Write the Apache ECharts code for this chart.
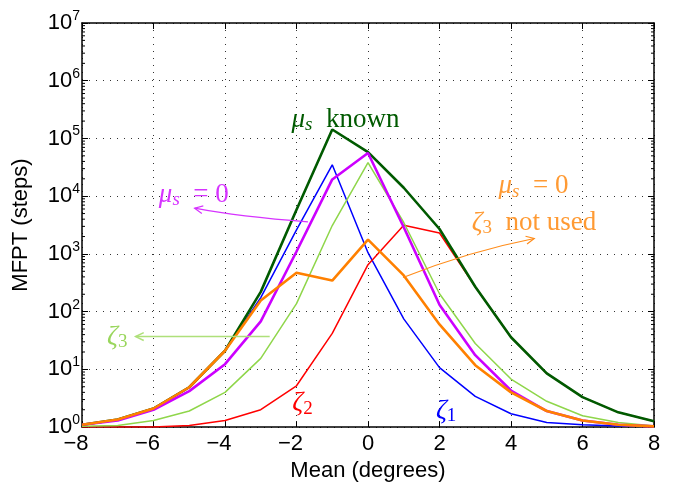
<!DOCTYPE html>
<html>
<head>
<meta charset="utf-8">
<script src="https://cdn.jsdelivr.net/npm/echarts@6/dist/echarts.min.js"></script>
<style>
  html, body { margin: 0; padding: 0; background: #fff; }
  #chart { width: 683px; height: 487px; }
</style>
</head>
<body>
<div id="chart"></div>
<script>
// mean of the distribution (degrees)
const meanDeg = [-8, -7, -6, -5, -4, -3, -2, -1, 0, 1, 2, 3, 4, 5, 6, 7, 8];
// MFPT (steps) for each case
const muKnown = [1.1, 1.35, 2.1, 4.9, 21, 220, 5800, 143000, 58000, 14000, 2700, 270, 36, 8.5, 3.3, 1.8, 1.26];
const muZero = [1.1, 1.3, 2.0, 4.2, 12.3, 68, 1100, 19500, 56000, 2900, 132, 17.6, 4.3, 1.9, 1.3, 1.1, 1.03];
const muZeroNoZeta3 = [1.1, 1.35, 2.1, 4.9, 21, 156, 470, 345, 1770, 424, 60, 11.8, 4.0, 1.9, 1.3, 1.1, 1.03];
const zeta1 = [1.1, 1.35, 2.1, 4.9, 21, 175, 2600, 35000, 1050, 75, 10.7, 3.4, 1.7, 1.2, 1.1, 1.05, 1.02];
const zeta2 = [1.0, 1.0, 1.0, 1.07, 1.3, 2.0, 5.2, 42, 650, 3150, 2300, 270, 36, 8.5, 3.3, 1.8, 1.26];
const zeta3 = [1.03, 1.07, 1.3, 1.9, 4.0, 15.5, 138, 3100, 38000, 3500, 204, 28, 6.8, 2.8, 1.57, 1.2, 1.05];
const minorSteps = [2, 3, 4, 5, 6, 7, 8, 9];
const decades = [1, 10, 100, 1e3, 1e4, 1e5, 1e6];

const sans = '"Liberation Sans", Arial, sans-serif';
const serif = '"Liberation Serif", "Times New Roman", serif';

const pairs = (ys) => meanDeg.map((x, i) => [x, ys[i]]);

const chart = echarts.init(document.getElementById('chart'));

function lineSeries(name, ys, color, width) {
  return {
    name: name,
    type: 'line',
    data: pairs(ys),
    symbol: 'none',
    animation: false,
    lineStyle: { color: color, width: width },
    z: 3
  };
}

const gridLine = { show: true, lineStyle: { color: '#333', type: [1, 6], width: 1 } };
const frameLine = { onZero: false, lineStyle: { color: '#000', width: 1.5 } };
const inTick = { inside: true, length: 6, lineStyle: { color: '#000' } };

chart.setOption({
  animation: false,
  grid: { left: 82, right: 29, top: 23, bottom: 58 },
  xAxis: [
    {
      type: 'value', min: -8, max: 8, interval: 2,
      name: 'Mean (degrees)', nameLocation: 'middle', nameGap: 32,
      nameTextStyle: { fontFamily: sans, fontSize: 22, color: '#000' },
      axisLine: frameLine,
      axisTick: inTick,
      axisLabel: {
        margin: 6,
        formatter: v => v < 0 ? '{neg|\u2212' + (-v) + '}' : '{pos|' + v + '}',
        rich: {
          neg: { fontFamily: sans, fontSize: 22, color: '#000', padding: [0, 12, 0, 0] },
          pos: { fontFamily: sans, fontSize: 22, color: '#000' }
        }
      },
      splitLine: gridLine
    },
    {
      type: 'value', min: -8, max: 8, interval: 2, position: 'top',
      axisLine: frameLine,
      axisTick: inTick,
      axisLabel: { show: false },
      splitLine: { show: false }
    }
  ],
  yAxis: [
    {
      type: 'log', logBase: 10, min: 1, max: 1e7, interval: 1,
      name: 'MFPT (steps)', nameLocation: 'middle', nameGap: 50,
      nameTextStyle: { fontFamily: sans, fontSize: 22, color: '#000' },
      axisLine: frameLine,
      axisTick: inTick,
      axisLabel: {
        margin: 2,
        formatter: v => '{b|10}{e|' + Math.round(Math.log10(v)) + '}',
        rich: {
          b: { fontFamily: sans, fontSize: 22, color: '#000', lineHeight: 28 },
          e: { fontFamily: sans, fontSize: 14, color: '#000', lineHeight: 14, padding: [0, 0, 14, 0] }
        }
      },
      splitLine: gridLine
    },
    {
      type: 'log', logBase: 10, min: 1, max: 1e7, interval: 1, position: 'right',
      axisLine: frameLine,
      axisTick: inTick,
      axisLabel: { show: false },
      splitLine: { show: false }
    }
  ],
  series: [
    lineSeries('zeta1', zeta1, '#0000ff', 1.5),
    lineSeries('zeta2', zeta2, '#ff0000', 1.5),
    lineSeries('zeta3', zeta3, '#8fd64a', 1.5),
    lineSeries('mu_s known', muKnown, '#005a00', 2.6),
    lineSeries('mu_s = 0', muZero, '#cc00ff', 2.6),
    lineSeries('mu_s = 0, zeta3 not used', muZeroNoZeta3, '#ff8000', 2.6)
  ]
});

// annotations, positioned in data coordinates [mean, MFPT]
const toPx = (p) => chart.convertToPixel({ gridIndex: 0 }, p);

function richStyle(color, size) {
  const sub = Math.round(size * 0.7);
  return {
    g: { fontFamily: serif, fontStyle: 'italic', fontSize: size, fill: color, lineHeight: size + 2 },
    s: { fontFamily: serif, fontStyle: 'italic', fontSize: sub, fill: color, lineHeight: 12, padding: [11, 0, 0, 0] },
    n: { fontFamily: serif, fontSize: sub, fill: color, lineHeight: 12, padding: [11, 0, 0, 0] },
    t: { fontFamily: serif, fontSize: size, fill: color, lineHeight: size + 2 }
  };
}

function label(text, at, color, size) {
  const p = toPx(at);
  return {
    type: 'text', x: p[0], y: p[1], z: 10,
    style: { text: text, rich: richStyle(color, size), fill: color, align: 'left', verticalAlign: 'middle' }
  };
}

function arrow(from, ctrl, to, color, width) {
  const a = toPx(from), c = toPx(ctrl), b = toPx(to);
  const ang = Math.atan2(b[1] - c[1], b[0] - c[0]);
  const len = 9, spread = 0.45;
  const h1 = [b[0] - len * Math.cos(ang - spread), b[1] - len * Math.sin(ang - spread)];
  const h2 = [b[0] - len * Math.cos(ang + spread), b[1] - len * Math.sin(ang + spread)];
  return [
    {
      type: 'bezierCurve', z: 10,
      shape: { x1: a[0], y1: a[1], x2: b[0], y2: b[1], cpx1: c[0], cpy1: c[1] },
      style: { stroke: color, lineWidth: width, fill: null }
    },
    {
      type: 'polyline', z: 10,
      shape: { points: [h1, b, h2] },
      style: { stroke: color, lineWidth: width, fill: null }
    }
  ];
}

// log minor ticks on both vertical edges
const minorTicks = [];
decades.forEach(d => minorSteps.forEach(m => {
  const left = toPx([-8, d * m]);
  const right = toPx([8, d * m]);
  minorTicks.push(
    { type: 'line', z: 5, shape: { x1: left[0], y1: left[1], x2: left[0] + 3, y2: left[1] }, style: { stroke: '#000', lineWidth: 1 } },
    { type: 'line', z: 5, shape: { x1: right[0], y1: right[1], x2: right[0] - 3, y2: right[1] }, style: { stroke: '#000', lineWidth: 1 } }
  );
}));

const graphics = [
  label('{g|μ}{s|s}{t|  known}', [-2.14, 2.1e5], '#005a00', 27),
  label('{g|μ}{s|s}{t|  = 0}', [-5.85, 1.07e4], '#d633ff', 27),
  label('{g|μ}{s|s}{t|  = 0}', [3.65, 1.48e4], '#ff9a33', 27),
  label('{g|ζ}{n|3}{t|  not used}', [2.9, 3.5e3], '#ff9a33', 27),
  label('{g|ζ}{n|3}', [-7.3, 37], '#99d65c', 27),
  label('{g|ζ}{n|2}', [-2.12, 2.6], '#ff0000', 27),
  label('{g|ζ}{n|1}', [1.9, 1.9], '#0000ff', 27)
].concat(
  arrow([-1.68, 3.6e3], [-3.6, 4.4e3], [-4.85, 6.2e3], '#d633ff', 1.2),
  arrow([-2.75, 37], [-4.6, 37], [-6.5, 37], '#aee07a', 1.5),
  arrow([0.98, 3.9e2], [2.8, 1.1e3], [4.65, 1.85e3], '#ff8c1a', 1.2),
  minorTicks
);

chart.setOption({ graphic: graphics });
</script>
</body>
</html>
